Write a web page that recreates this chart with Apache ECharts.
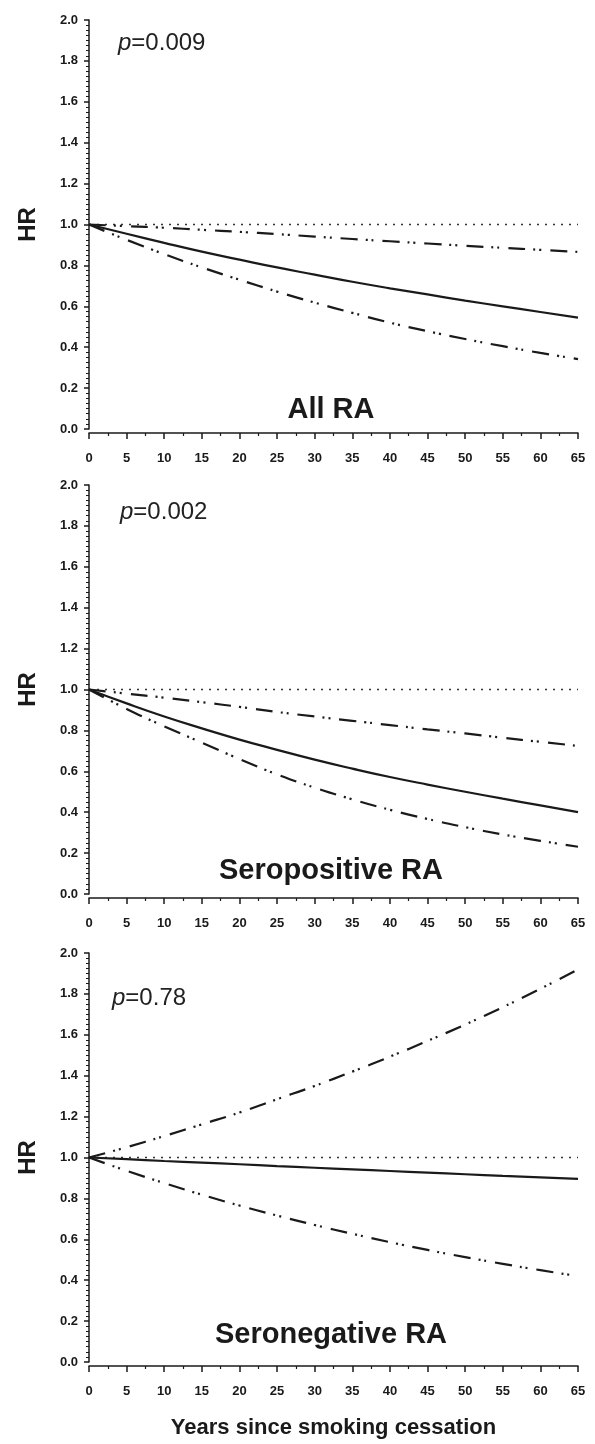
<!DOCTYPE html>
<html>
<head>
<meta charset="utf-8">
<script src="https://cdn.jsdelivr.net/npm/echarts@6/dist/echarts.min.js"></script>
<style>
html,body{margin:0;padding:0;background:#fff;}
#chart{width:595px;height:1444px;}
</style>
</head>
<body>
<div id="chart"></div>
<script>
// ---- data ----
var years = [0, 5, 10, 15, 20, 25, 30, 35, 40, 45, 50, 55, 60, 65];
var yTicks = [0, 0.2, 0.4, 0.6, 0.8, 1.0, 1.2, 1.4, 1.6, 1.8, 2.0];
var refHR = [1, 1, 1, 1, 1, 1, 1, 1, 1, 1, 1, 1, 1, 1];

var allHR    = [1.0, 0.955, 0.91, 0.867, 0.828, 0.79, 0.755, 0.72, 0.688, 0.658, 0.628, 0.60, 0.572, 0.545];
var allUpper = [1.0, 0.992, 0.984, 0.974, 0.964, 0.953, 0.941, 0.929, 0.918, 0.907, 0.896, 0.886, 0.876, 0.866];
var allLower = [1.0, 0.925, 0.855, 0.79, 0.73, 0.672, 0.618, 0.568, 0.52, 0.478, 0.44, 0.405, 0.372, 0.342];

var posHR    = [1.0, 0.932, 0.868, 0.81, 0.755, 0.705, 0.657, 0.613, 0.572, 0.535, 0.50, 0.466, 0.433, 0.40];
var posUpper = [1.0, 0.98, 0.96, 0.938, 0.915, 0.89, 0.868, 0.847, 0.826, 0.805, 0.785, 0.764, 0.744, 0.724];
var posLower = [1.0, 0.905, 0.82, 0.74, 0.66, 0.585, 0.52, 0.463, 0.412, 0.367, 0.327, 0.291, 0.26, 0.231];

var negHR    = [1.0, 0.992, 0.983, 0.975, 0.967, 0.958, 0.95, 0.942, 0.934, 0.926, 0.918, 0.91, 0.903, 0.895];
var negUpper = [1.0, 1.05, 1.105, 1.162, 1.22, 1.285, 1.35, 1.42, 1.493, 1.57, 1.65, 1.735, 1.825, 1.92];
var negLower = [1.0, 0.935, 0.875, 0.818, 0.765, 0.716, 0.67, 0.627, 0.586, 0.548, 0.513, 0.48, 0.449, 0.42];

var panelTitles = ['All RA', 'Seropositive RA', 'Seronegative RA'];
var pValues = ['0.009', '0.002', '0.78'];
var yName = 'HR';
var xName = 'Years since smoking cessation';

var panels = [
  {hr: allHR, up: allUpper, lo: allLower},
  {hr: posHR, up: posUpper, lo: posLower},
  {hr: negHR, up: negUpper, lo: negLower}
];

// ---- layout ----
var gridTops = [20, 485, 953];
var gridH = 409;
var ink = '#1a1a1a';
var tickFont = {fontFamily: 'Liberation Sans, Arial', fontWeight: 'bold', fontSize: 13, color: ink};

function pairs(arr) { return years.map(function (y, i) { return [y, arr[i]]; }); }

var grids = [], xAxes = [], yAxes = [], series = [], graphics = [];
var pPos = [[118, 43], [120, 512], [112, 998]];
var titleY = [410, 871, 1335];

gridTops.forEach(function (top, k) {
  grids.push({left: 89, top: top, width: 489, height: gridH, containLabel: false});
  xAxes.push({
    type: 'value', gridIndex: k, min: 0, max: 65, interval: 5, offset: 4,
    axisLine: {onZero: false, lineStyle: {color: ink, width: 1.5}},
    axisTick: {length: 6, lineStyle: {color: ink, width: 1.5}},
    minorTick: {show: true, splitNumber: 2, length: 3, lineStyle: {color: ink, width: 1.2}},
    splitLine: {show: false},
    axisLabel: Object.assign({margin: 19}, tickFont),
    name: k === 2 ? xName : '',
    nameLocation: 'middle', nameGap: 51,
    nameTextStyle: {fontFamily: 'Liberation Sans, Arial', fontWeight: 'bold', fontSize: 22, color: ink}
  });
  yAxes.push({
    type: 'value', gridIndex: k, min: 0, max: 2.0, interval: 0.2, offset: 3,
    axisLine: {show: true, lineStyle: {color: ink, width: 1.5}},
    axisTick: {show: true, length: 5, lineStyle: {color: ink, width: 1.5}},
    minorTick: {show: true, splitNumber: 8, length: 3, lineStyle: {color: ink, width: 1}},
    splitLine: {show: false},
    axisLabel: Object.assign({margin: 8, formatter: function (v) { return v.toFixed(1); }}, tickFont),
    name: yName, nameLocation: 'middle', nameGap: 46, nameRotate: 90,
    nameTextStyle: {fontFamily: 'Liberation Sans, Arial', fontWeight: 'bold', fontSize: 24, color: ink}
  });
  var p = panels[k];
  series.push({
    type: 'line', xAxisIndex: k, yAxisIndex: k, data: pairs(refHR), symbol: 'none',
    lineStyle: {color: '#333', width: 1.6, type: [2, 6]}, silent: true
  });
  series.push({
    type: 'line', xAxisIndex: k, yAxisIndex: k, data: pairs(p.up), symbol: 'none', smooth: true,
    lineStyle: {color: ink, width: 2.2, type: [17, 8, 2, 4, 2, 9]}
  });
  series.push({
    type: 'line', xAxisIndex: k, yAxisIndex: k, data: pairs(p.lo), symbol: 'none', smooth: true,
    lineStyle: {color: ink, width: 2.2, type: [17, 8, 2, 4, 2, 9]}
  });
  series.push({
    type: 'line', xAxisIndex: k, yAxisIndex: k, data: pairs(p.hr), symbol: 'none', smooth: true,
    lineStyle: {color: ink, width: 2.2, type: 'solid'}
  });
  graphics.push({
    type: 'text', x: pPos[k][0], y: pPos[k][1],
    style: {
      text: '{i|p}=' + pValues[k],
      fontFamily: 'Liberation Sans, Arial', fontSize: 24, fill: '#222',
      verticalAlign: 'middle', align: 'left',
      rich: {i: {fontStyle: 'italic', fontFamily: 'Liberation Sans, Arial', fontSize: 24, fill: '#222'}}
    }
  });
  graphics.push({
    type: 'text', x: 331, y: titleY[k],
    style: {
      text: panelTitles[k], fontFamily: 'Liberation Sans, Arial', fontWeight: 'bold', fontSize: 29,
      fill: ink, align: 'center', verticalAlign: 'middle'
    }
  });
});

var chart = echarts.init(document.getElementById('chart'), null, {renderer: 'canvas'});
chart.setOption({
  animation: false,
  backgroundColor: '#fff',
  grid: grids,
  xAxis: xAxes,
  yAxis: yAxes,
  series: series,
  graphic: graphics
});
</script>
</body>
</html>
